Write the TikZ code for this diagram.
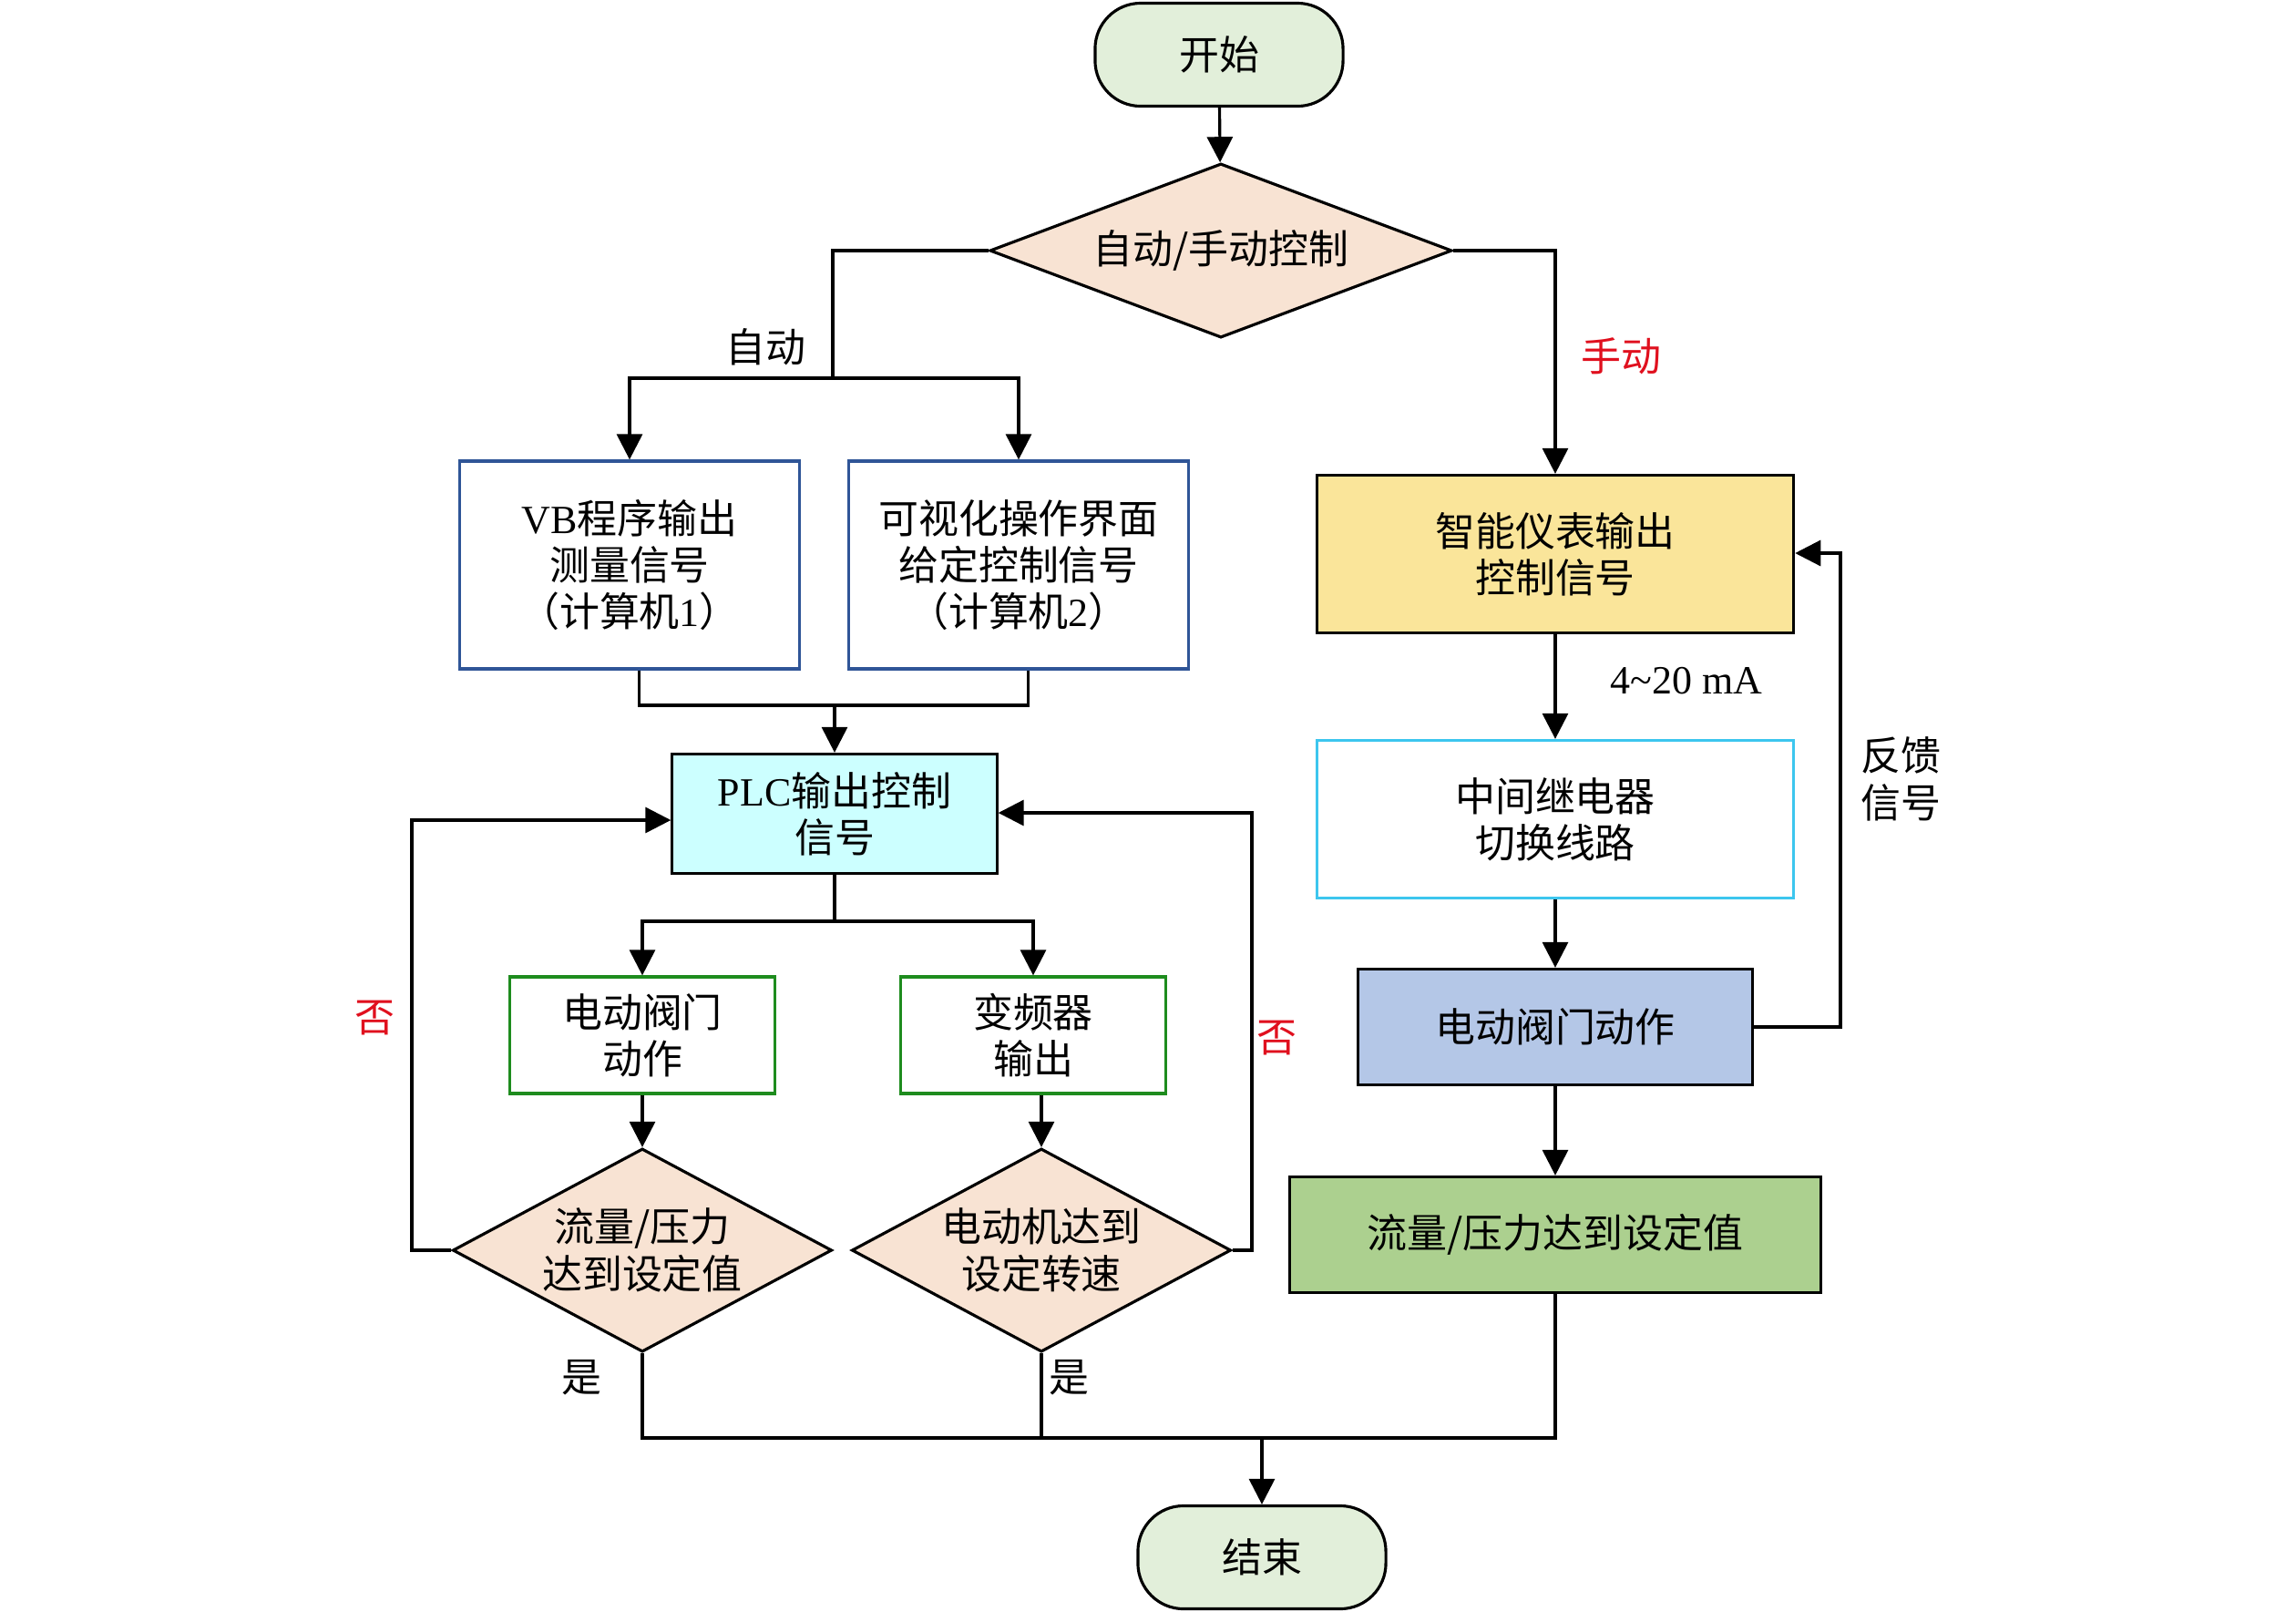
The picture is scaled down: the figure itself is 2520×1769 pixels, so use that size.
\documentclass[tikz,border=0pt]{standalone}
\usepackage{fontspec}
\setmainfont{Liberation Serif}
\newfontfamily\cjk{Noto Sans CJK SC}
\usetikzlibrary{shapes.geometric,arrows.meta}
\definecolor{termfill}{HTML}{E2EFDA}
\definecolor{choicefill}{HTML}{F8E3D3}
\definecolor{pcblue}{HTML}{2F5597}
\definecolor{plcfill}{HTML}{CCFFFF}
\definecolor{outgreen}{HTML}{1E8C1E}
\definecolor{meterfill}{HTML}{FAE59A}
\definecolor{relaycyan}{HTML}{3DC6EE}
\definecolor{actfill}{HTML}{B4C7E7}
\definecolor{donefill}{HTML}{ACD08F}
\definecolor{notered}{HTML}{E0101E}
\begin{document}
\begin{tikzpicture}[x=0.01cm,y=-0.01cm]
        \tikzstyle{text_style} = [font=\cjk\fontsize{12.5}{14.6}\selectfont,align=center,inner sep=0pt]
        \tikzstyle{box_style} = [text_style,rectangle,draw=black,line width=0.9pt]
        \tikzstyle{term_style} = [box_style,fill=termfill,rounded corners=5mm,minimum width=2.72cm,minimum height=1.13cm]
        \tikzstyle{decision_style} = [box_style,diamond,fill=choicefill]
        \tikzstyle{arrow_style} = [line width=0.9pt,-{Triangle[length=2.8mm,width=2.8mm]}]
        \tikzstyle{line_style} = [line width=0.9pt]
        \useasboundingbox (0,0) rectangle (2520,1769);

        % left branch
        \node[term_style] (start) at (1338,60) {开始};
        \node[decision_style,aspect=2.65,minimum width=5.07cm,minimum height=1.91cm] (mode) at (1340,275) {自动/手动控制};
        \node[box_style,draw=pcblue,minimum width=3.72cm,minimum height=2.28cm] (vb) at (691,620) {{\rmfamily VB}程序输出\\测量信号\\（计算机{\rmfamily 1}）};
        \node[box_style,draw=pcblue,minimum width=3.72cm,minimum height=2.28cm] (gui) at (1118,620) {可视化操作界面\\给定控制信号\\（计算机{\rmfamily 2}）};
        \node[box_style,fill=plcfill,minimum width=3.56cm,minimum height=1.31cm] (plc) at (916,893) {{\rmfamily PLC}输出控制\\信号};
        \node[box_style,draw=outgreen,minimum width=2.91cm,minimum height=1.28cm] (valve) at (705,1136) {电动阀门\\动作};
        \node[box_style,draw=outgreen,minimum width=2.91cm,minimum height=1.28cm] (vfd) at (1134,1136) {变频器\\输出};
        \node[decision_style,aspect=1.87,minimum width=4.16cm,minimum height=2.23cm] (flow) at (705,1372) {流量/压力\\达到设定值};
        \node[decision_style,aspect=1.87,minimum width=4.16cm,minimum height=2.23cm] (motor) at (1143,1372) {电动机达到\\设定转速};
        \node[term_style] (stop) at (1385,1709) {结束};

        % right branch
        \node[box_style,fill=meterfill,minimum width=5.23cm,minimum height=1.73cm] (meter) at (1707,608) {智能仪表输出\\控制信号};
        \node[box_style,draw=relaycyan,minimum width=5.23cm,minimum height=1.73cm] (relay) at (1707,899) {中间继电器\\切换线路};
        \node[box_style,fill=actfill,minimum width=4.33cm,minimum height=1.27cm] (act) at (1707,1127) {电动阀门动作};
        \node[box_style,fill=donefill,minimum width=5.83cm,minimum height=1.27cm] (done) at (1707,1355) {流量/压力达到设定值};

        % labels
        \node[text_style] (auto_label) at (840,381) {自动};
        \node[text_style,text=notered] (manual_label) at (1779,391) {手动};
        \node[text_style] (ma_label) at (1851,747) {{\rmfamily 4\textasciitilde20 mA}};
        \node[text_style,align=left] (fb_label) at (2086,855) {反馈\\信号};
        \node[text_style,text=notered] (no_left_label) at (411,1117) {否};
        \node[text_style,text=notered] (no_right_label) at (1401,1139) {否};
        \node[text_style] (yes_left_label) at (638,1512) {是};
        \node[text_style] (yes_right_label) at (1173,1512) {是};

        \coordinate (auto_split) at (914,415);
        \coordinate (pc_join) at (916,774);
        \coordinate (plc_split) at (916,1011);
        \coordinate (no_left) at (452,900);
        \coordinate (no_right) at (1374,892);
        \coordinate (end_join) at (1385,1578);
        \coordinate (fb_corner) at (2020,607);

        \draw[arrow_style] (start) -- (mode);
        \draw[line_style] (mode.west) -| (auto_split);
        \draw[arrow_style] (auto_split) -| (vb.north);
        \draw[arrow_style] (auto_split) -| (gui.north);
        \draw[arrow_style] (mode.east) -| (meter.north);
        \draw[line_style] ([xshift=3pt]vb.south) |- (pc_join) -| ([xshift=3pt]gui.south);
        \draw[arrow_style] (pc_join) -- (plc.north);
        \draw[line_style] (plc.south) -- (plc_split);
        \draw[arrow_style] (plc_split) -| (valve.north);
        \draw[arrow_style] (plc_split) -| (vfd.north);
        \draw[arrow_style] (valve.south) -- (flow.north);
        \draw[arrow_style] (vfd.south -| motor.north) -- (motor.north);
        \draw[arrow_style] (flow.west) -| (no_left) -- (no_left -| plc.west);
        \draw[arrow_style] (motor.east) -| (no_right) -- (no_right -| plc.east);
        \draw[line_style] (flow.south) |- (end_join) -| (done.south);
        \draw[line_style] (motor.south) -- (motor.south |- end_join);
        \draw[arrow_style] (end_join) -- (stop.north);

        \draw[arrow_style] (meter) -- (relay);
        \draw[arrow_style] (relay) -- (act);
        \draw[arrow_style] (act) -- (done);
        \draw[arrow_style] (act.east) -| (fb_corner) -- (fb_corner -| meter.east);
      \end{tikzpicture}
\end{document}
